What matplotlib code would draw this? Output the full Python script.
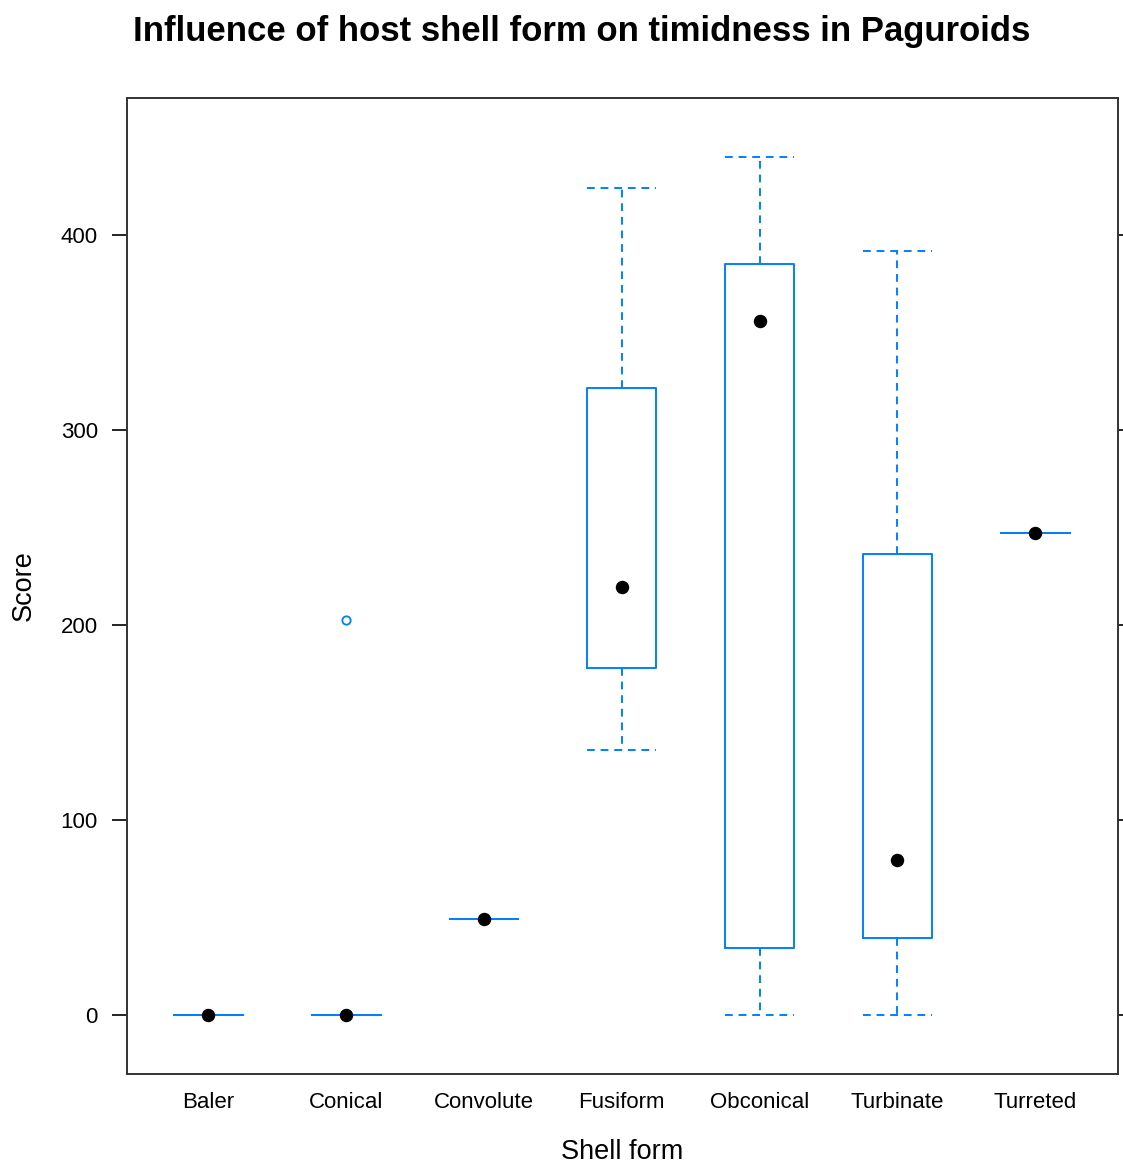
import matplotlib
matplotlib.use("Agg")
import matplotlib.pyplot as plt

plt.rcParams['font.family'] = ['Liberation Sans', 'DejaVu Sans']

# Per-group summary statistics of timidness score
shell_forms = ["Baler", "Conical", "Convolute", "Fusiform", "Obconical", "Turbinate", "Turreted"]
whisker_low = [0, 0, 49, 136, 0, 0, 247]
q1_values = [0, 0, 49, 178, 34, 39.5, 247]
medians = [0, 0, 49, 219.5, 356, 79.5, 247]
q3_values = [0, 0, 49, 321.5, 385.5, 236.5, 247]
whisker_high = [0, 0, 49, 424.5, 440, 392, 247]
outliers = [[], [202.5], [], [], [], [], []]

box_color = "#0080ff"

fig = plt.figure(figsize=(11.23, 11.64), dpi=100)
ax = fig.add_axes([0.1131, 0.0773, 0.8824, 0.8385])

stats = []
for i, name in enumerate(shell_forms):
    stats.append(dict(label=name, whislo=whisker_low[i], q1=q1_values[i], med=medians[i],
                      q3=q3_values[i], whishi=whisker_high[i], fliers=outliers[i]))

positions = list(range(1, len(shell_forms) + 1))
ax.bxp(stats, positions=positions, widths=0.5, capwidths=0.5, showfliers=True,
       boxprops=dict(color=box_color, linewidth=1.4),
       whiskerprops=dict(color=box_color, linewidth=1.4, linestyle=(0, (4, 3))),
       capprops=dict(color=box_color, linewidth=1.4, linestyle=(0, (4, 3))),
       medianprops=dict(visible=False),
       flierprops=dict(marker="o", markersize=6, markerfacecolor="none",
                       markeredgecolor=box_color, markeredgewidth=1.3))

# Median shown as a filled black dot
ax.scatter(positions, medians, s=75, color="black", zorder=5)

ax.set_xlim(0.41, 7.6)
ax.set_ylim(-30.5, 470.5)
ax.set_yticks([0, 100, 200, 300, 400])
ax.set_xticks(positions)
ax.set_xticklabels(shell_forms)

for side in ax.spines.values():
    side.set_linewidth(1.4)
    side.set_color("#333333")

ax.tick_params(axis="y", which="both", direction="out", length=11, width=1.2,
               labelsize=16, pad=10, right=True, left=True, labelright=False)
ax.tick_params(axis="x", length=0, labelsize=16, pad=13)

ax.set_ylabel("Score", fontsize=19.5, labelpad=17)
ax.set_xlabel("Shell form", fontsize=19.5, labelpad=19)

fig.text(0.518, 0.973, "Influence of host shell form on timidness in Paguroids",
         ha="center", va="center", fontsize=25, fontweight="bold")

fig.savefig("out.png", dpi=100)
